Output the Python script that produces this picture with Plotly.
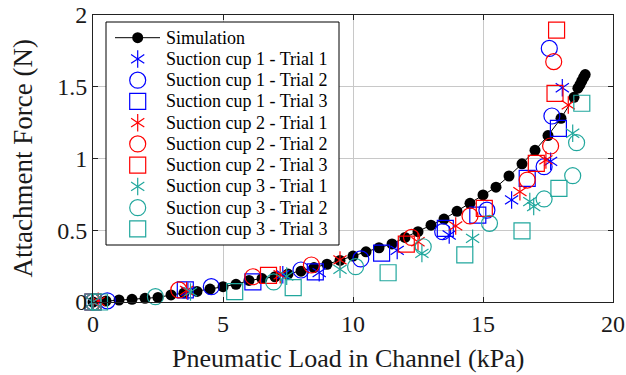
import plotly.graph_objects as go

# ---------------- data ----------------
sim_x = [0, 0.5, 1.0, 1.5, 2.0, 2.5, 3.0, 3.5, 4.0, 4.5, 5.0, 5.5, 6.0, 6.5, 7.0, 7.5, 8.0, 8.5,
         9.0, 9.5, 10.0, 10.5, 11.0, 11.5, 12.0, 12.5, 13.0, 13.5, 14.0, 14.5, 15.0, 15.5, 16.0,
         16.5, 17.0, 17.5, 18.0, 18.5, 18.65, 18.73, 18.8, 18.87, 18.93]
sim_y = [0, 0.007, 0.014, 0.019, 0.026, 0.032, 0.049, 0.062, 0.074, 0.09, 0.107, 0.123, 0.15,
         0.163, 0.176, 0.195, 0.215, 0.24, 0.263, 0.29, 0.32, 0.35, 0.378, 0.405, 0.45, 0.49,
         0.535, 0.578, 0.632, 0.688, 0.746, 0.80, 0.878, 0.963, 1.057, 1.16, 1.28, 1.426,
         1.49, 1.515, 1.54, 1.565, 1.585]

c1t1_x = [0, 3.65, 7.3, 8.7, 11.7, 13.7, 16.1, 17.6, 18.05]
c1t1_y = [0, 0.075, 0.19, 0.205, 0.36, 0.467, 0.711, 0.98, 1.493]
c1t2_x = [0, 0.55, 4.55, 8.0, 10.3, 13.45, 15.15, 17.35, 17.65, 17.55]
c1t2_y = [0, 0.008, 0.107, 0.223, 0.30, 0.49, 0.64, 0.943, 1.296, 1.767]
c1t3_x = [0, 3.55, 6.15, 8.55, 11.1, 13.55, 14.8, 16.7, 17.9]
c1t3_y = [0, 0.085, 0.14, 0.21, 0.34, 0.513, 0.606, 0.862, 1.21]

c2t1_x = [0, 0.2, 3.6, 7.2, 9.5, 12.5, 13.95, 16.42, 17.42, 18.28]
c2t1_y = [0, 0.005, 0.08, 0.19, 0.293, 0.42, 0.53, 0.769, 0.99, 1.373]
c2t2_x = [0, 3.3, 6.15, 8.4, 12.25, 14.5, 16.7, 17.6, 17.72]
c2t2_y = [0, 0.084, 0.176, 0.258, 0.45, 0.6, 0.85, 1.087, 1.675]
c2t3_x = [0, 6.75, 12.05, 15.05, 17.05, 17.77, 17.83]
c2t3_y = [0, 0.185, 0.404, 0.653, 0.966, 1.454, 1.895]

c3t1_x = [0, 3.75, 7.45, 9.5, 12.65, 14.6, 16.8, 16.95, 18.45]
c3t1_y = [0, 0.07, 0.18, 0.228, 0.339, 0.444, 0.70, 0.665, 1.176]
c3t2_x = [0, 2.4, 6.95, 10.1, 12.7, 15.25, 17.35, 18.45, 18.6]
c3t2_y = [0, 0.037, 0.14, 0.246, 0.385, 0.548, 0.718, 0.88, 1.11]
c3t3_x = [0, 0.25, 5.45, 7.7, 11.35, 14.3, 16.5, 17.92, 18.8]
c3t3_y = [0, 0.0, 0.072, 0.10, 0.204, 0.328, 0.495, 0.792, 1.385]

names = ["Simulation",
         "Suction cup 1 - Trial 1", "Suction cup 1 - Trial 2", "Suction cup 1 - Trial 3",
         "Suction cup 2 - Trial 1", "Suction cup 2 - Trial 2", "Suction cup 2 - Trial 3",
         "Suction cup 3 - Trial 1", "Suction cup 3 - Trial 2", "Suction cup 3 - Trial 3"]
x_ticks = [0, 5, 10, 15, 20]
y_ticks = [0, 0.5, 1, 1.5, 2]
x_title = "Pneumatic Load in Channel (kPa)"
y_title = "Attachment Force (N)"

# ---------------- styles ----------------
BLUE, RED, TEAL = "#0000FF", "#FF0000", "#21A79D"
FONT = "Liberation Serif"
series = [
    (c1t1_x, c1t1_y, BLUE, "ast"), (c1t2_x, c1t2_y, BLUE, "circle-open"), (c1t3_x, c1t3_y, BLUE, "square-open"),
    (c2t1_x, c2t1_y, RED, "ast"), (c2t2_x, c2t2_y, RED, "circle-open"), (c2t3_x, c2t3_y, RED, "square-open"),
    (c3t1_x, c3t1_y, TEAL, "ast"), (c3t2_x, c3t2_y, TEAL, "circle-open"), (c3t3_x, c3t3_y, TEAL, "square-open"),
]
OPEN_SIZE = 16
AST_SIZE = 11
LW = 1.2

fig = go.Figure()


def add_markers(fig, xs, ys, color, kind, xaxis="x", yaxis="y"):
    if kind == "ast":
        for sym in ("y-up-open", "y-down-open"):
            fig.add_trace(go.Scatter(x=xs, y=ys, mode="markers", xaxis=xaxis, yaxis=yaxis,
                                     marker=dict(symbol=sym, size=AST_SIZE, color=color,
                                                 line=dict(color=color, width=LW)),
                                     showlegend=False, cliponaxis=False, hoverinfo="skip"))
    else:
        fig.add_trace(go.Scatter(x=xs, y=ys, mode="markers", xaxis=xaxis, yaxis=yaxis,
                                 marker=dict(symbol=kind, size=OPEN_SIZE, color=color,
                                             line=dict(color=color, width=LW)),
                                 showlegend=False, cliponaxis=False, hoverinfo="skip"))


# simulation
fig.add_trace(go.Scatter(x=sim_x, y=sim_y, mode="lines+markers",
                         line=dict(color="black", width=1),
                         marker=dict(symbol="circle", size=11, color="black"),
                         showlegend=False, cliponaxis=False, hoverinfo="skip"))
for xs, ys, c, k in series:
    add_markers(fig, xs, ys, c, k)

# ---------------- manual legend (overlay axes in pixel units) ----------------
L, R, T, B = 93, 613, 15, 302
LEG_L, LEG_R, LEG_T, LEG_B = 106, 339, 22, 245
ROW0, ROW_H = 37.7, 21.25
MARK_X, LINE_X0, LINE_X1, TEXT_X = 137.7, 115, 160, 164

fig.add_trace(go.Scatter(x=[LEG_L, LEG_R, LEG_R, LEG_L, LEG_L], y=[LEG_T, LEG_T, LEG_B, LEG_B, LEG_T],
                         xaxis="x2", yaxis="y2", mode="lines", fill="toself", fillcolor="white",
                         line=dict(color="black", width=1), showlegend=False, hoverinfo="skip"))
rows = [ROW0 + i * ROW_H for i in range(len(names))]
fig.add_trace(go.Scatter(x=[LINE_X0, MARK_X, LINE_X1], y=[rows[0]] * 3, xaxis="x2", yaxis="y2",
                         mode="lines", line=dict(color="black", width=1), showlegend=False, hoverinfo="skip"))
fig.add_trace(go.Scatter(x=[MARK_X], y=[rows[0]], xaxis="x2", yaxis="y2", mode="markers",
                         marker=dict(symbol="circle", size=11, color="black"), showlegend=False, hoverinfo="skip"))
for i, (xs, ys, c, k) in enumerate(series):
    add_markers(fig, [MARK_X], [rows[i + 1]], c, k, xaxis="x2", yaxis="y2")

annotations = []
for name, ry in zip(names, rows):
    annotations.append(dict(text=name, x=TEXT_X, y=ry, xref="x2", yref="y2", xanchor="left",
                            yanchor="middle", showarrow=False,
                            font=dict(family=FONT, size=18, color="black")))
annotations.append(dict(text=x_title, x=0.49, y=-(358 - B) / (B - T), xref="paper", yref="paper",
                        xanchor="center", yanchor="middle", showarrow=False,
                        font=dict(family=FONT, size=26, color="#1a1a1a")))
annotations.append(dict(text=y_title, x=(22 - L) / (R - L), y=0.5, xref="paper", yref="paper",
                        xanchor="center", yanchor="middle", showarrow=False, textangle=-90,
                        font=dict(family=FONT, size=27, color="#1a1a1a")))

axis_common = dict(showline=True, linecolor="#222222", linewidth=1, mirror="ticks",
                   ticks="inside", ticklen=5, tickcolor="#222222", tickwidth=1,
                   showgrid=True, gridcolor="#C8C8C8", gridwidth=1, zeroline=False,
                   automargin=False,
                   tickfont=dict(family=FONT, size=24, color="#1a1a1a"))

fig.update_layout(
    width=626, height=375,
    margin=dict(l=L, r=626 - R, t=T, b=375 - B, pad=0, autoexpand=False),
    paper_bgcolor="white", plot_bgcolor="white",
    font=dict(family=FONT),
    showlegend=False,
    xaxis=dict(range=[0, 20], tickvals=x_ticks, ticktext=[str(v) for v in x_ticks], **axis_common),
    yaxis=dict(range=[0, 2], tickvals=y_ticks, ticktext=[f"{v:g}" for v in y_ticks], **axis_common),
    xaxis2=dict(overlaying="x", range=[L, R], visible=False, fixedrange=True),
    yaxis2=dict(overlaying="y", range=[B, T], visible=False, fixedrange=True),
    annotations=annotations,
)

fig.write_html("out.html")
